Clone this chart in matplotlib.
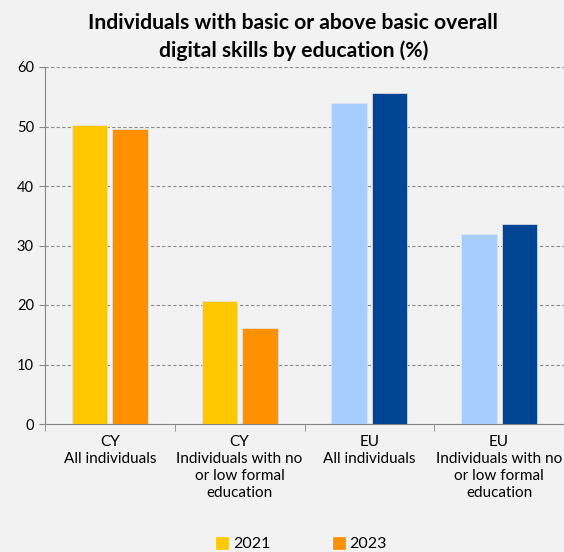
import matplotlib.pyplot as plt
import numpy as np

plt.rcParams['font.family'] = ['Lato', 'DejaVu Sans']

categories = ["CY\nAll individuals",
              "CY\nIndividuals with no\nor low formal\neducation",
              "EU\nAll individuals",
              "EU\nIndividuals with no\nor low formal\neducation"]
years = ["2021", "2023"]
vals_2021 = [50.2, 20.6, 53.9, 31.9]
vals_2023 = [49.5, 16.2, 55.6, 33.6]

col_2021 = ["#ffc800", "#ffc800", "#a6cdfd", "#a6cdfd"]
col_2023 = ["#ff9100", "#ff9100", "#004494", "#004494"]
bg = "#f2f2f2"

fig = plt.figure(figsize=(5.64, 5.52), dpi=100, facecolor=bg)
ax = fig.add_axes([45/564, 1 - 424/552, 1 - 45/564, (424 - 67)/552], facecolor=bg)

x = np.arange(len(categories))
w = 0.275
off = 0.156
b1 = ax.bar(x - off, vals_2021, w, color=col_2021, edgecolor="#e6e6e6", linewidth=0.5, zorder=3)
b2 = ax.bar(x + off, vals_2023, w, color=col_2023, edgecolor="#e6e6e6", linewidth=0.5, zorder=3)

ax.set_ylim(0, 60)
ax.set_xlim(-0.5, -0.5 + 519 / 131)
ax.set_yticks(range(0, 61, 10))
ax.yaxis.grid(True, linestyle=(0, (3, 2)), color="#8c8c8c", linewidth=0.8, zorder=0)
ax.set_axisbelow(True)

ax.set_xticks(x)
ax.set_xticklabels(categories, fontsize=11, linespacing=1.27)
ax.tick_params(axis="x", length=0, pad=8)
ax.set_xticks(np.arange(-0.5, 3.6, 1), minor=True)
ax.tick_params(axis="x", which="minor", length=5, color="#888888")
ax.tick_params(axis="y", length=4, color="#888888", labelsize=10.5, pad=4)

for s in ["top", "right"]:
    ax.spines[s].set_visible(False)
ax.spines["left"].set_color("#888888")
ax.spines["bottom"].set_color("#888888")

fig.text(0.52, 0.933, "Individuals with basic or above basic overall\ndigital skills by education (%)",
         ha="center", va="center", fontsize=15.2, fontweight="bold", linespacing=1.4)

leg = fig.legend([b1[0], b2[0]], years, loc="center", bbox_to_anchor=(0.535, 0.014),
                 ncol=2, frameon=False, fontsize=11.5, handlelength=0.75, handleheight=0.75,
                 columnspacing=3.9, handletextpad=0.3)
for h, c in zip(leg.legend_handles, ["#ffc800", "#ff9100"]):
    h.set_color(c)

fig.savefig("out.png", dpi=100, facecolor=bg)
